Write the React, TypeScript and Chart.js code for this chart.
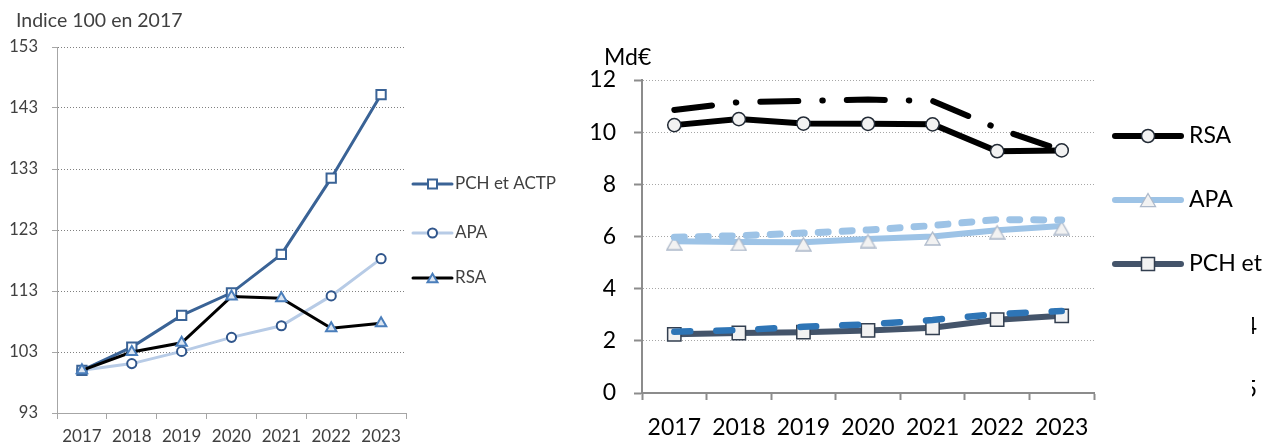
import React, { useEffect, useRef } from "react";
import { Chart, registerables } from "chart.js";

Chart.register(...registerables);

// ---------- Data ----------
const YEARS = ["2017", "2018", "2019", "2020", "2021", "2022", "2023"];

// Left chart: index 100 in 2017
const LEFT_TITLE = "Indice 100 en 2017";
const LEFT_Y_MIN = 93;
const LEFT_Y_MAX = 153;
const LEFT_Y_STEP = 10;
const PCH_INDEX = [100, 103.8, 109, 112.7, 119, 131.5, 145.2];
const APA_INDEX = [100, 101.1, 103.1, 105.4, 107.3, 112.2, 118.3];
const RSA_INDEX = [100, 103, 104.5, 112.1, 111.8, 106.9, 107.7];
const LEFT_LABELS = ["PCH et ACTP", "APA", "RSA"];

// Right chart: billions of euros
const RIGHT_TITLE = "Md€";
const RIGHT_Y_MIN = 0;
const RIGHT_Y_MAX = 12;
const RIGHT_Y_STEP = 2;
const RSA_MD = [10.27, 10.5, 10.33, 10.32, 10.3, 9.27, 9.3];
const RSA_MD_DASH = [10.85, 11.15, 11.2, 11.25, 11.2, 10.15, 9.3];
const APA_MD = [5.82, 5.79, 5.78, 5.9, 6.0, 6.24, 6.4];
const APA_MD_DASH = [5.97, 6.03, 6.13, 6.25, 6.42, 6.65, 6.63];
const PCH_MD = [2.25, 2.3, 2.33, 2.4, 2.5, 2.81, 2.96];
const PCH_MD_DASH = [2.35, 2.41, 2.54, 2.63, 2.8, 3.03, 3.14];
const RIGHT_LABELS = ["RSA", "APA", "PCH et ACTP"];
const CLIPPED_FRAGMENTS = ["4", "5"];

const FONT = "Lato, 'Open Sans', sans-serif";

function drawMarker(
  ctx: CanvasRenderingContext2D,
  style: string,
  x: number,
  y: number,
  size: number,
  fill: string,
  stroke: string,
  lw: number
) {
  ctx.save();
  ctx.setLineDash([]);
  ctx.fillStyle = fill;
  ctx.strokeStyle = stroke;
  ctx.lineWidth = lw;
  ctx.beginPath();
  if (style === "rect") {
    ctx.rect(x - size / 2, y - size / 2, size, size);
  } else if (style === "circle") {
    ctx.arc(x, y, size / 2, 0, Math.PI * 2);
  } else {
    const h = size * 0.87;
    ctx.moveTo(x, y - h / 2);
    ctx.lineTo(x + size / 2, y + h / 2);
    ctx.lineTo(x - size / 2, y + h / 2);
    ctx.closePath();
  }
  ctx.fill();
  ctx.stroke();
  ctx.restore();
}

function makeTriangle(w: number, h: number, padTop: number, fill: string, stroke: string, lw: number) {
  const c = document.createElement("canvas");
  c.width = w + 2;
  c.height = h + padTop + 2;
  const ctx = c.getContext("2d")!;
  ctx.fillStyle = fill;
  ctx.strokeStyle = stroke;
  ctx.lineWidth = lw;
  ctx.beginPath();
  ctx.moveTo(1 + w / 2, padTop + 1);
  ctx.lineTo(1 + w, padTop + 1 + h);
  ctx.lineTo(1, padTop + 1 + h);
  ctx.closePath();
  ctx.fill();
  ctx.stroke();
  return c;
}

type LegendItem = {
  label: string;
  color: string;
  lineWidth: number;
  marker: string;
  size: number;
  fill: string;
  stroke: string;
  mlw: number;
};

function overlayPlugin(cfg: {
  title: string;
  titleX: number;
  titleY: number;
  titleFont: string;
  titleColor: string;
  legendX1: number;
  legendX2: number;
  legendTextX: number;
  legendYs: number[];
  legendFont: string;
  legendColor: string;
  items: LegendItem[];
  fragments?: { text: string; x: number; y: number; clipX: number }[];
}) {
  return {
    id: "overlay",
    afterDraw(chart: any) {
      const ctx: CanvasRenderingContext2D = chart.ctx;
      ctx.save();
      ctx.font = cfg.titleFont;
      ctx.fillStyle = cfg.titleColor;
      ctx.textAlign = "left";
      ctx.textBaseline = "alphabetic";
      ctx.fillText(cfg.title, cfg.titleX, cfg.titleY);

      cfg.items.forEach((it, i) => {
        const y = cfg.legendYs[i];
        ctx.save();
        ctx.strokeStyle = it.color;
        ctx.lineWidth = it.lineWidth;
        ctx.lineCap = "round";
        ctx.beginPath();
        ctx.moveTo(cfg.legendX1, y);
        ctx.lineTo(cfg.legendX2, y);
        ctx.stroke();
        ctx.restore();
        drawMarker(ctx, it.marker, (cfg.legendX1 + cfg.legendX2) / 2, y, it.size, it.fill, it.stroke, it.mlw);
        ctx.font = cfg.legendFont;
        ctx.fillStyle = cfg.legendColor;
        ctx.textAlign = "left";
        ctx.textBaseline = "middle";
        ctx.fillText(it.label, cfg.legendTextX, y);
      });

      (cfg.fragments || []).forEach((f) => {
        ctx.save();
        ctx.beginPath();
        ctx.rect(f.clipX, f.y - 20, 40, 40);
        ctx.clip();
        ctx.font = cfg.legendFont;
        ctx.fillStyle = cfg.legendColor;
        ctx.textAlign = "right";
        ctx.textBaseline = "middle";
        ctx.fillText(f.text, f.x, f.y);
        ctx.restore();
      });
      ctx.restore();
    },
  };
}

export default function App() {
  const leftRef = useRef<HTMLCanvasElement | null>(null);
  const rightRef = useRef<HTMLCanvasElement | null>(null);

  useEffect(() => {
    document.body.style.margin = "0";
    const PCH_C = "#3A6396";
    const APA_C = "#B7CBE6";
    const RSA_C = "#000000";

    const left = new Chart(leftRef.current!, {
      type: "line",
      data: {
        labels: YEARS,
        datasets: [
          {
            label: LEFT_LABELS[0],
            data: PCH_INDEX,
            borderColor: PCH_C,
            borderWidth: 3,
            pointStyle: "rect",
            pointRadius: 6.6,
            pointBackgroundColor: "#ffffff",
            pointBorderColor: PCH_C,
            pointBorderWidth: 2,
            tension: 0,
            order: 2,
          },
          {
            label: LEFT_LABELS[1],
            data: APA_INDEX,
            borderColor: APA_C,
            borderWidth: 3,
            pointStyle: "circle",
            pointRadius: 4.6,
            pointBackgroundColor: "#ffffff",
            pointBorderColor: "#30568C",
            pointBorderWidth: 2,
            tension: 0,
            order: 3,
          },
          {
            label: LEFT_LABELS[2],
            data: RSA_INDEX,
            borderColor: RSA_C,
            borderWidth: 3,
            pointStyle: "triangle",
            pointRadius: 6,
            pointBackgroundColor: "#DCE6F2",
            pointBorderColor: "#4A7EBB",
            pointBorderWidth: 2,
            tension: 0,
            order: 1,
          },
        ],
      },
      options: {
        responsive: false,
        devicePixelRatio: 1,
        animation: false,
        events: [],
        layout: { padding: { left: 0, top: 47, right: 164, bottom: 0 } },
        plugins: { legend: { display: false }, tooltip: { enabled: false }, title: { display: false } },
        scales: {
          x: {
            offset: true,
            grid: {
              display: true,
              offset: true,
              drawOnChartArea: false,
              drawTicks: true,
              tickLength: 6,
              color: "#A6A6A6",
              tickColor: "#A6A6A6",
            },
            border: { display: true, color: "#A6A6A6", width: 1 },
            ticks: {
              color: "#404040",
              font: { family: FONT, size: 17 },
              padding: 7,
              maxRotation: 0,
              autoSkip: false,
            },
            afterFit: (s: any) => {
              s.height = 33;
            },
          },
          y: {
            min: LEFT_Y_MIN,
            max: LEFT_Y_MAX,
            ticks: {
              stepSize: LEFT_Y_STEP,
              color: "#404040",
              font: { family: FONT, size: 16.5 },
              padding: 14,
            },
            grid: { color: "#808080", lineWidth: 1, tickLength: 5, tickColor: "#A6A6A6" },
            border: { display: true, color: "#A6A6A6", width: 1, dash: [1, 2] },
            afterFit: (s: any) => {
              s.width = 57;
            },
          },
        },
      },
      plugins: [
        overlayPlugin({
          title: LEFT_TITLE,
          titleX: 16,
          titleY: 27,
          titleFont: `19.5px ${FONT}`,
          titleColor: "#404040",
          legendX1: 413,
          legendX2: 452,
          legendTextX: 455,
          legendYs: [184, 233, 278],
          legendFont: `17px ${FONT}`,
          legendColor: "#404040",
          items: [
            { label: LEFT_LABELS[0], color: PCH_C, lineWidth: 3, marker: "rect", size: 9, fill: "#fff", stroke: PCH_C, mlw: 2 },
            { label: LEFT_LABELS[1], color: APA_C, lineWidth: 3, marker: "circle", size: 9, fill: "#fff", stroke: "#30568C", mlw: 2 },
            { label: LEFT_LABELS[2], color: RSA_C, lineWidth: 3, marker: "triangle", size: 10, fill: "#DCE6F2", stroke: "#4A7EBB", mlw: 2 },
          ],
        }),
      ] as any,
    } as any);

    const RSA2 = "#000000";
    const APA2 = "#9DC3E6";
    const PCH2 = "#44546A";
    const PCH2D = "#2E75B6";
    const MFILL = "#F2F2F2";
    const tri = makeTriangle(15, 13, 4, MFILL, "#ADB9CA", 1.3);

    const right = new Chart(rightRef.current!, {
      type: "line",
      data: {
        labels: YEARS,
        datasets: [
          {
            label: "RSA (prévision)",
            data: RSA_MD_DASH,
            borderColor: RSA2,
            borderWidth: 6,
            borderDash: [38, 24, 0.5, 24],
            borderCapStyle: "round",
            pointRadius: 0,
            tension: 0,
            order: 3,
          },
          {
            label: "APA (prévision)",
            data: APA_MD_DASH,
            borderColor: APA2,
            borderWidth: 7,
            borderDash: [10, 14],
            borderCapStyle: "round",
            pointRadius: 0,
            tension: 0,
            order: 2,
          },
          {
            label: "PCH (prévision)",
            data: PCH_MD_DASH,
            borderColor: PCH2D,
            borderWidth: 6.5,
            borderDash: [16, 26],
            borderCapStyle: "round",
            pointRadius: 0,
            tension: 0,
            order: 1,
          },
          {
            label: RIGHT_LABELS[0],
            data: RSA_MD,
            borderColor: RSA2,
            borderWidth: 6,
            pointStyle: "circle",
            pointRadius: 6.6,
            pointBackgroundColor: MFILL,
            pointBorderColor: "#222A35",
            pointBorderWidth: 1.5,
            tension: 0,
            order: 6,
          },
          {
            label: RIGHT_LABELS[1],
            data: APA_MD,
            borderColor: APA2,
            borderWidth: 6,
            pointStyle: tri,
            pointRadius: 8,
            tension: 0,
            order: 5,
          },
          {
            label: RIGHT_LABELS[2],
            data: PCH_MD,
            borderColor: PCH2,
            borderWidth: 6,
            pointStyle: "rect",
            pointRadius: 9.4,
            pointBackgroundColor: MFILL,
            pointBorderColor: "#333F50",
            pointBorderWidth: 1.5,
            tension: 0,
            order: 4,
          },
        ],
      },
      options: {
        responsive: false,
        devicePixelRatio: 1,
        animation: false,
        events: [],
        layout: { padding: { left: 0, top: 80, right: 168, bottom: 0 } },
        plugins: { legend: { display: false }, tooltip: { enabled: false }, title: { display: false } },
        scales: {
          x: {
            offset: true,
            grid: {
              display: true,
              offset: true,
              drawOnChartArea: false,
              drawTicks: true,
              tickLength: 7,
              color: "#8C8C8C",
              tickColor: "#8C8C8C",
              tickWidth: 2,
            },
            border: { display: true, color: "#8C8C8C", width: 2 },
            ticks: {
              color: "#000000",
              font: { family: FONT, size: 23 },
              padding: 14,
              maxRotation: 0,
              autoSkip: false,
            },
            afterFit: (s: any) => {
              s.height = 53;
            },
          },
          y: {
            min: RIGHT_Y_MIN,
            max: RIGHT_Y_MAX,
            ticks: {
              stepSize: RIGHT_Y_STEP,
              color: "#000000",
              font: { family: FONT, size: 23 },
              padding: 18,
            },
            grid: { color: "#A6A6A6", lineWidth: 1, tickLength: 8, tickColor: "#8C8C8C", tickWidth: 2 },
            border: { display: true, color: "#8C8C8C", width: 2, dash: [1, 2] },
            afterFit: (s: any) => {
              s.width = 67;
            },
          },
        },
      },
      plugins: [
        overlayPlugin({
          title: RIGHT_TITLE,
          titleX: 29,
          titleY: 65,
          titleFont: `23px ${FONT}`,
          titleColor: "#000000",
          legendX1: 540,
          legendX2: 606,
          legendTextX: 614,
          legendYs: [136, 200, 264],
          legendFont: `23px ${FONT}`,
          legendColor: "#000000",
          items: [
            { label: RIGHT_LABELS[0], color: RSA2, lineWidth: 6, marker: "circle", size: 13, fill: MFILL, stroke: "#222A35", mlw: 1.5 },
            { label: RIGHT_LABELS[1], color: APA2, lineWidth: 6, marker: "triangle", size: 15, fill: MFILL, stroke: "#ADB9CA", mlw: 1.3 },
            { label: RIGHT_LABELS[2], color: PCH2, lineWidth: 6, marker: "rect", size: 13, fill: MFILL, stroke: "#333F50", mlw: 1.5 },
          ],
          fragments: [
            { text: CLIPPED_FRAGMENTS[0], x: 682, y: 327, clipX: 677 },
            { text: CLIPPED_FRAGMENTS[1], x: 682, y: 390, clipX: 677 },
          ],
        }),
      ] as any,
    } as any);

    return () => {
      left.destroy();
      right.destroy();
    };
  }, []);

  return (
    <div
      style={{
        position: "absolute",
        left: 0,
        top: 0,
        width: 1262,
        height: 446,
        background: "#ffffff",
        overflow: "hidden",
      }}
    >
      <canvas
        ref={leftRef}
        width={570}
        height={446}
        style={{ position: "absolute", left: 0, top: 0, width: 570, height: 446 }}
      />
      <canvas
        ref={rightRef}
        width={687}
        height={446}
        style={{ position: "absolute", left: 575, top: 0, width: 687, height: 446 }}
      />
    </div>
  );
}
